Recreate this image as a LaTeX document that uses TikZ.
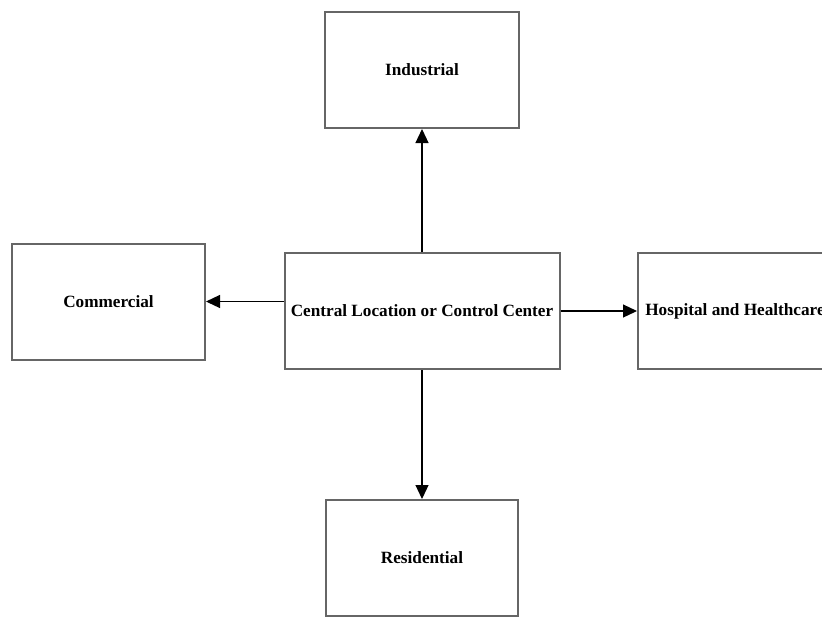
\documentclass[tikz,border=0pt]{standalone}
\usepackage{fontspec}
\setmainfont{Liberation Serif}
\usetikzlibrary{arrows.meta}

\begin{document}
\begin{tikzpicture}[x=0.5pt,y=0.5pt,
    sector/.style={draw=black!60, line width=1pt, fill=white, inner sep=0pt,
      minimum height=58pt, font=\fontsize{8.6}{10}\selectfont\bfseries},
    link/.style={-{Triangle[length=7pt,width=6.5pt]}, line width=0.6pt}]
      \useasboundingbox (0,0) rectangle (822,-616);
      \clip (0,0) rectangle (822,-616);
      \node[sector, minimum width=137.5pt] (hub) at (422,-311) {Central Location or Control Center};
      \node[sector, minimum width=97pt] (ind) at (422,-70) {Industrial};
      \node[sector, minimum width=96.5pt] (com) at (108.5,-301.5) {Commercial};
      \node[sector, minimum width=97pt] (hosp) at (735,-311) {Hospital and Healthcare};
      \node[sector, minimum width=96pt] (res) at (422,-558) {Residential};
      \draw[link] (hub.north) -- (ind.south);
      \draw[link] (hub.west |- com.east) -- (com.east);
      \draw[link] (hub.east) -- (hosp.west);
      \draw[link] (hub.south) -- (res.north);
\end{tikzpicture}
\end{document}
